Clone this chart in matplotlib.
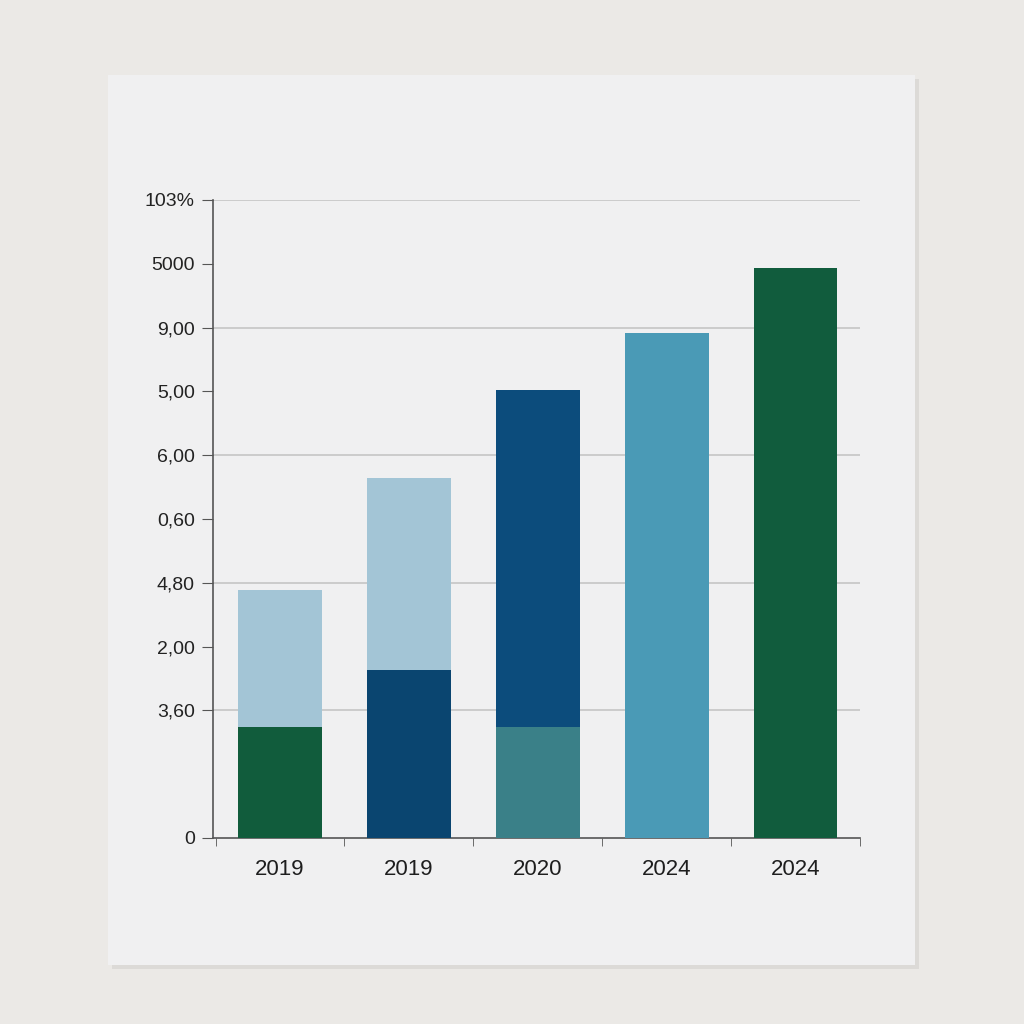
import matplotlib.pyplot as plt
from matplotlib.patches import Rectangle

# data
years = ["2019", "2019", "2020", "2024", "2024"]
bottom_vals = [17.4, 26.3, 17.4, 79.2, 89.3]
top_vals = [21.5, 30.1, 52.8, 0, 0]
bottom_colors = ["#115c3c", "#0a4570", "#3a8088", "#4a9ab6", "#115c3d"]
top_colors = ["#a3c5d6", "#a3c5d6", "#0c4c7c", "#4a9ab6", "#115c3d"]
ytick_vals = [0, 20, 30, 40, 50, 60, 70, 80, 90, 100]
ytick_labels = ["0", "3,60", "2,00", "4,80", "0,60", "6,00", "5,00", "9,00", "5000", "103%"]
grid_vals = [20, 40, 60, 80, 100]

plt.rcParams['font.family'] = ['Liberation Sans', 'DejaVu Sans']

fig = plt.figure(figsize=(10.24, 10.24), dpi=100)
fig.patch.set_facecolor("#ebe9e6")

# sheet of paper
fig.patches.append(Rectangle((112/1024, 1-969/1024), 807/1024, 890/1024,
                             transform=fig.transFigure, facecolor="#dcdad7",
                             edgecolor="none", zorder=-2))
fig.patches.append(Rectangle((108/1024, 1-965/1024), 807/1024, 890/1024,
                             transform=fig.transFigure, facecolor="#f0f0f1",
                             edgecolor="none", zorder=-1))

ax = fig.add_axes([213/1024, 1-838/1024, 647/1024, 638/1024])
ax.set_zorder(2)
ax.set_facecolor("none")

x = list(range(len(years)))
ax.bar(x, bottom_vals, width=0.65, color=bottom_colors, zorder=3)
ax.bar(x, top_vals, width=0.65, bottom=bottom_vals, color=top_colors, zorder=3)

for g in grid_vals:
    ax.axhline(g, color="#c9c9c9", lw=1.3, zorder=1)

ax.set_xlim(-0.52, 4.48)
ax.set_ylim(0, 100)
ax.set_yticks(ytick_vals)
ax.set_yticklabels(ytick_labels, fontsize=14, color="#222222")
ax.set_xticks(x)
ax.set_xticklabels(years, fontsize=16, color="#1e1e1e")
ax.set_xticks([i - 0.5 for i in range(len(years) + 1)], minor=True)
ax.tick_params(axis="x", which="major", length=0, pad=15)
ax.tick_params(axis="x", which="minor", length=6, color="#555555", direction="out")
ax.tick_params(axis="y", length=8, color="#555555", pad=5)

for s in ["top", "right"]:
    ax.spines[s].set_visible(False)
for s in ["left", "bottom"]:
    ax.spines[s].set_color("#555555")
    ax.spines[s].set_linewidth(1.2)

fig.savefig("out.png", dpi=100, facecolor=fig.get_facecolor())
